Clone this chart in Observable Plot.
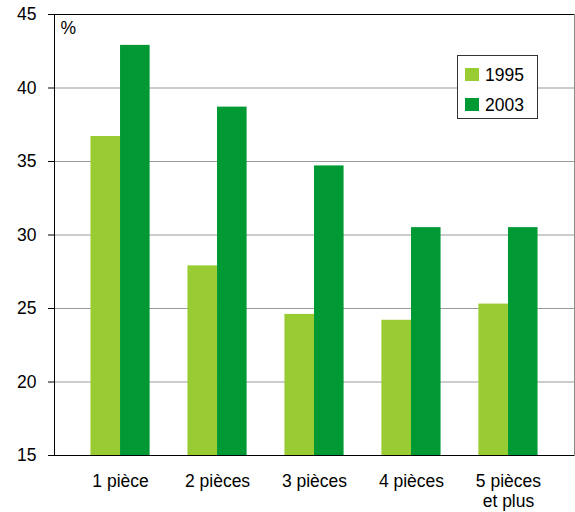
<!DOCTYPE html>
<html><head><meta charset="utf-8">
<script src="https://cdn.jsdelivr.net/npm/d3@7"></script>
<script src="https://cdn.jsdelivr.net/npm/@observablehq/plot@0.6"></script>
<style>
html,body{margin:0;padding:0;background:#fff;}
#chart{position:relative;width:575px;height:512px;font-family:"Liberation Sans",Arial,sans-serif;color:#000;}
#chart svg{display:block;}
.legend{position:absolute;left:457px;top:55px;width:81px;height:64px;border:1px solid #333;background:#fff;box-sizing:border-box;}
.legend .sw{position:absolute;left:7px;width:14px;height:13px;}
.legend .lb{position:absolute;left:27px;height:20px;line-height:20px;font-size:17.5px;}
</style></head><body><div id="chart"></div>
<script>
const categories = ["1 pièce", "2 pièces", "3 pièces", "4 pièces", "5 pièces\net plus"];
const years = ["1995", "2003"];
const values1995 = [36.7, 27.9, 24.6, 24.2, 25.3];
const values2003 = [42.9, 38.7, 34.7, 30.5, 30.5];
const colors = ["#99cc33", "#009933"];
const yTicks = [15, 20, 25, 30, 35, 40, 45];
const unitLabel = "%";

const W = 575, H = 512;
const mL = 54, mR = 1, mT = 14, mB = 57;
const padInner = 0.39, padOuter = 0.376;
const yMin = yTicks[0], yMax = yTicks[yTicks.length - 1];
const fs = 17.5;

const data = [];
categories.forEach((c, i) => {
  data.push({cat: c, year: years[0], value: values1995[i]});
  data.push({cat: c, year: years[1], value: values2003[i]});
});

const band = d3.scaleBand().domain(categories).range([mL, W - mR])
  .paddingInner(padInner).paddingOuter(padOuter);
const half = band.bandwidth() / 2;

const plot = Plot.plot({
  width: W, height: H,
  marginLeft: mL, marginRight: mR, marginTop: mT, marginBottom: mB,
  style: {fontFamily: '"Liberation Sans", Arial, sans-serif', fontSize: fs + "px", color: "#000", background: "#fff"},
  x: {type: "band", domain: categories, paddingInner: padInner, paddingOuter: padOuter, round: false, label: null},
  y: {domain: [yMin, yMax], label: null},
  color: {domain: years, range: colors},
  marks: [
    Plot.ruleY(yTicks.slice(1, -1), {stroke: "#9a9a9a", strokeWidth: 1.2}),
    Plot.barY(data.filter(d => d.year === years[0]), {x: "cat", y1: () => yMin, y2: "value", fill: d => d.year, insetLeft: 0, insetRight: half}),
    Plot.barY(data.filter(d => d.year === years[1]), {x: "cat", y1: () => yMin, y2: "value", fill: d => d.year, insetLeft: half, insetRight: 0}),
    Plot.frame({anchor: "right", stroke: "#8a8a8a"}),
    Plot.frame({anchor: "left", stroke: "#000"}),
    Plot.ruleY([yMin, yMax], {stroke: "#000"}),
    Plot.axisY({ticks: yTicks, tickSize: 6, tickPadding: 12, fontSize: fs, stroke: "#000", label: null}),
    Plot.axisX({tickSize: 0, tickPadding: 17, fontSize: fs, lineHeight: 1.14, label: null}),
    Plot.text([unitLabel], {frameAnchor: "top-left", text: d => d, textAnchor: "start", lineAnchor: "top", dx: 6, dy: 7, fontSize: fs})
  ]
});
const chart = document.getElementById("chart");
chart.appendChild(plot);

const legend = document.createElement("div");
legend.className = "legend";
years.forEach((y, i) => {
  const sw = document.createElement("div");
  sw.className = "sw";
  sw.style.top = (12 + i * 29.5) + "px";
  sw.style.background = colors[i];
  const lb = document.createElement("div");
  lb.className = "lb";
  lb.style.top = (8.5 + i * 30) + "px";
  lb.textContent = y;
  legend.appendChild(sw);
  legend.appendChild(lb);
});
chart.appendChild(legend);
</script></body></html>
